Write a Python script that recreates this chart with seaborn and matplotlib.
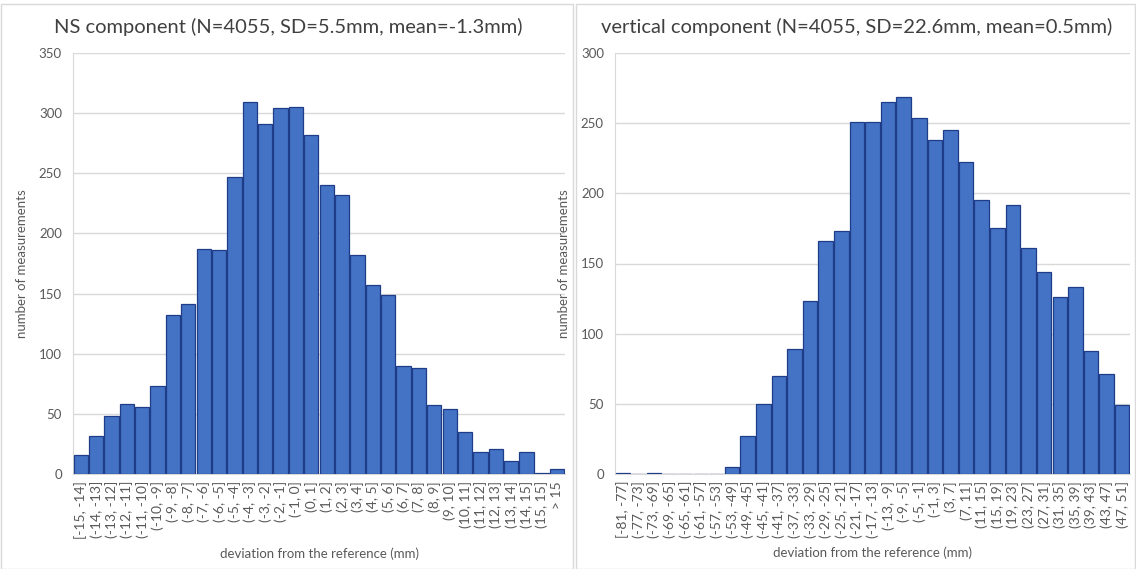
import matplotlib
matplotlib.use("Agg")
import matplotlib.pyplot as plt
import seaborn as sns
from matplotlib.patches import Rectangle

# ---- data ----
ns_labels = ["[-15, -14]", "(-14, -13]", "(-13, -12]", "(-12, -11]", "(-11, -10]", "(-10, -9]",
             "(-9, -8]", "(-8, -7]", "(-7, -6]", "(-6, -5]", "(-5, -4]", "(-4, -3]", "(-3, -2]",
             "(-2, -1]", "(-1, 0]", "(0, 1]", "(1, 2]", "(2, 3]", "(3, 4]", "(4, 5]", "(5, 6]",
             "(6, 7]", "(7, 8]", "(8, 9]", "(9, 10]", "(10, 11]", "(11, 12]", "(12, 13]",
             "(13, 14]", "(14, 15]", "(15, 15]", "> 15"]
ns_counts = [16, 32, 48, 58, 56, 73, 132, 141, 187, 186, 247, 309, 291, 304, 305, 282, 240, 232,
             182, 157, 149, 90, 88, 57, 54, 35, 18, 21, 11, 18, 1, 4]

vert_labels = ["[-81, -77]", "(-77, -73]", "(-73, -69]", "(-69, -65]", "(-65, -61]", "(-61, -57]",
               "(-57, -53]", "(-53, -49]", "(-49, -45]", "(-45, -41]", "(-41, -37]", "(-37, -33]",
               "(-33, -29]", "(-29, -25]", "(-25, -21]", "(-21, -17]", "(-17, -13]", "(-13, -9]",
               "(-9, -5]", "(-5, -1]", "(-1, 3]", "(3, 7]", "(7, 11]", "(11, 15]", "(15, 19]",
               "(19, 23]", "(23, 27]", "(27, 31]", "(31, 35]", "(35, 39]", "(39, 43]", "(43, 47]",
               "(47, 51]"]
vert_counts = [1, 0, 1, 0, 0, 0, 0, 5, 27, 50, 70, 89, 123, 166, 173, 251, 251, 265, 269, 254,
               238, 245, 222, 195, 175, 192, 161, 144, 126, 133, 88, 71, 49]

ns_title = "NS component (N=4055, SD=5.5mm, mean=-1.3mm)"
vert_title = "vertical component (N=4055, SD=22.6mm, mean=0.5mm)"
xlabel = "deviation from the reference (mm)"
ylabel = "number of measurements"

# ---- style ----
sns.set_style("white")
plt.rcParams['font.family'] = ['Lato', 'DejaVu Sans']

BAR = "#4472C4"
EDGE = "#1F3C88"
GRID = "#D9D9D9"
TXT = "#595959"

fig = plt.figure(figsize=(11.36, 5.69), dpi=100)

# panel borders
fig.patches.append(Rectangle((0.5 / 1136, 0.5 / 569), 572 / 1136, 565 / 569, transform=fig.transFigure,
                             fill=False, edgecolor=GRID, linewidth=1))
fig.patches.append(Rectangle((576 / 1136, 0.5 / 569), 559 / 1136, 565 / 569, transform=fig.transFigure,
                             fill=False, edgecolor=GRID, linewidth=1))

ax1 = fig.add_axes([73 / 1136, 95 / 569, 492 / 1136, 421 / 569])
ax2 = fig.add_axes([615 / 1136, 95 / 569, 515 / 1136, 421 / 569])


def draw(ax, labels, counts, title, ymax, title_x):
    sns.barplot(x=labels, y=counts, ax=ax, color=BAR, saturation=1, edgecolor=EDGE,
                linewidth=0.9, width=0.93, zorder=3)
    ax.set_ylim(0, ymax)
    ax.set_xlim(-0.5, len(labels) - 0.5)
    ax.set_yticks(range(0, ymax + 1, 50))
    ax.yaxis.grid(True, color=GRID, linewidth=1, zorder=0)
    ax.set_axisbelow(True)
    for s in ["top", "right"]:
        ax.spines[s].set_visible(False)
    ax.spines["left"].set_color(GRID)
    ax.spines["bottom"].set_color(GRID)
    ax.tick_params(axis="both", length=0, labelsize=9.5, colors=TXT, pad=8)
    ax.tick_params(axis="x", pad=5)
    ax.set_xticks(range(len(labels)))
    ax.set_xticklabels(labels, rotation=90, fontsize=10, color=TXT)
    ax.set_xlabel(xlabel, fontsize=9.5, color=TXT, labelpad=6)
    ax.set_ylabel(ylabel, fontsize=9.5, color=TXT, labelpad=8)
    fig.text(title_x, 1 - 27 / 569, title, fontsize=14.5, color="#404040", ha="center", va="center")


draw(ax1, ns_labels, ns_counts, ns_title, 350, 288 / 1136)
draw(ax2, vert_labels, vert_counts, vert_title, 300, 857 / 1136)

fig.savefig("out.png", dpi=100)
